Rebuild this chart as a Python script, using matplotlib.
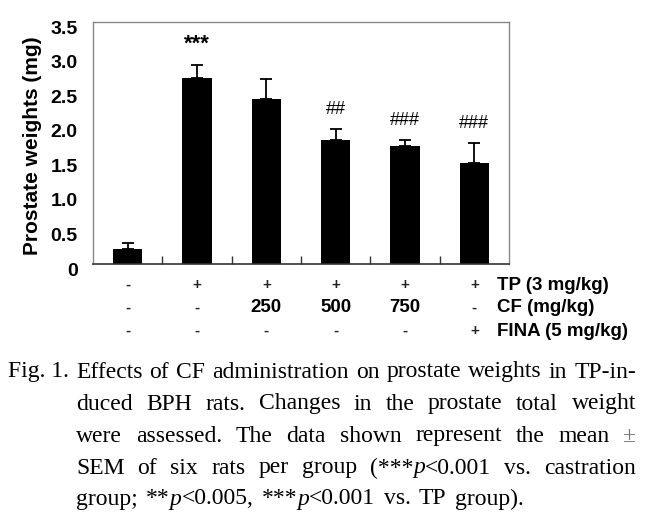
import matplotlib
matplotlib.use("Agg")
import matplotlib.pyplot as plt
import matplotlib.transforms as mtransforms
import numpy as np

# ---------------- data ----------------
means = [0.22, 2.69, 2.39, 1.79, 1.71, 1.46]
sems = [0.08, 0.19, 0.28, 0.16, 0.08, 0.29]
sig_marks = ['', '***', '', '##', '###', '###']
tp_row = ['-', '+', '+', '+', '+', '+']
cf_row = ['-', '-', '250', '500', '750', '-']
fina_row = ['-', '-', '-', '-', '-', '+']
row_labels = ['TP (3 mg/kg)', 'CF (mg/kg)', 'FINA (5 mg/kg)']
yticks = [0, 0.5, 1.0, 1.5, 2.0, 2.5, 3.0, 3.5]
ytick_labels = ['0', '0.5', '1.0', '1.5', '2.0', '2.5', '3.0', '3.5']
ylabel = 'Prostate weights (mg)'

caption_lines = [
    [[("Effects", False)], [("of", False)], [("CF", False)], [("administration", False)],
     [("on", False)], [("prostate", False)], [("weights", False)], [("in", False)], [("TP-in-", False)]],
    [[("duced", False)], [("BPH", False)], [("rats.", False)], [("Changes", False)], [("in", False)],
     [("the", False)], [("prostate", False)], [("total", False)], [("weight", False)]],
    [[("were", False)], [("assessed.", False)], [("The", False)], [("data", False)], [("shown", False)],
     [("represent", False)], [("the", False)], [("mean", False)], [("±", False)]],
    [[("SEM", False)], [("of", False)], [("six", False)], [("rats", False)], [("per", False)],
     [("group", False)], [("(***", False), ("p", True), ("<0.001", False)], [("vs.", False)],
     [("castration", False)]],
    [[("group;", False)], [("**", False), ("p", True), ("<0.005,", False)],
     [("***", False), ("p", True), ("<0.001", False)], [("vs.", False)], [("TP", False)], [("group).", False)]],
]
caption_prefix = "Fig. 1."

# ---------------- figure ----------------
W, H = 649, 528
fig = plt.figure(figsize=(W / 100, H / 100), dpi=100)
fig.patch.set_facecolor('white')

sans = ['Liberation Sans', 'DejaVu Sans']
serif = ['Liberation Serif', 'DejaVu Serif']

ax = fig.add_axes([93 / W, 1 - 264 / H, (509 - 93) / W, (264 - 22) / H])
x = np.arange(len(means))
ax.bar(x, means, width=0.42, color='black', zorder=2)
ax.errorbar(x, means, yerr=[np.zeros(len(sems)), sems], fmt='none',
            ecolor='black', elinewidth=1.3, capsize=4, capthick=1.3, zorder=3)

ax.set_xlim(-0.5, len(means) - 0.5)
ax.set_ylim(0, 3.5)
ax.set_yticks(yticks)
ax.set_yticklabels(ytick_labels, fontsize=14, fontweight='bold', family=sans)
ax.tick_params(axis='y', length=0, pad=11)
offset = mtransforms.ScaledTranslation(0, -5 / 100, fig.dpi_scale_trans)
for lab in ax.get_yticklabels():
    lab.set_transform(lab.get_transform() + offset)

ax.set_xticks(np.arange(0.5, len(means) - 0.5, 1.0))
ax.set_xticklabels([])
ax.tick_params(axis='x', direction='in', length=6, width=1, color='#333333')

for s in ['top', 'right', 'left']:
    ax.spines[s].set_color('#888888')
    ax.spines[s].set_linewidth(1.0)
ax.spines['bottom'].set_color('#333333')
ax.spines['bottom'].set_linewidth(1.2)

ax.set_ylabel(ylabel, fontsize=15, fontweight='bold', family=sans)
ax.yaxis.set_label_coords(-0.122, 0.49)

for xi, m, s, lab in zip(x, means, sems, sig_marks):
    if not lab:
        continue
    if '*' in lab:
        ax.text(xi, m + s + 0.30, lab, ha='center', va='center', fontsize=16,
                fontweight='bold', family=sans)
    else:
        ax.text(xi, m + s + 0.28, lab, ha='center', va='center', fontsize=13,
                family=sans)

# table of treatments below the axes
row_y = [285, 308, 331]
for rows, yy in zip([tp_row, cf_row, fina_row], row_y):
    for xi, val in zip(x, rows):
        xd = ax.transData.transform((xi, 0))[0]
        if val in ['-', '+']:
            fig.text(xd / W, 1 - yy / H, val, ha='center', va='center',
                     fontsize=11, fontweight='bold', family=sans, color='#222222')
        else:
            fig.text(xd / W, 1 - yy / H, val, ha='center', va='center',
                     fontsize=13.5, fontweight='bold', family=sans)
for lab, yy in zip(row_labels, row_y):
    fig.text(497 / W, 1 - yy / H, lab, ha='left', va='center', fontsize=13.5,
             fontweight='bold', family=sans)

# ---------------- caption (justified) ----------------
renderer = fig.canvas.get_renderer()
cap_size = 17


def tw(s, italic=False):
    t = fig.text(0, 0, s, fontsize=cap_size, family=serif,
                 style='italic' if italic else 'normal')
    w = t.get_window_extent(renderer).width
    t.remove()
    return w


space_w = tw("a a") - tw("aa")
line_y = [372, 404, 436, 468, 499]
x0, x1 = 76, 636
fig.text(8 / W, 1 - line_y[0] / H, caption_prefix, fontsize=cap_size, family=serif,
         ha='left', va='center')
for li, (words, yy) in enumerate(zip(caption_lines, line_y)):
    widths = [sum(tw(p, it) for p, it in wd) for wd in words]
    total = sum(widths)
    if li < len(caption_lines) - 1:
        gap = (x1 - x0 - total) / (len(words) - 1)
    else:
        gap = space_w * 1.4
    cx = x0
    for wd, wdw in zip(words, widths):
        px = cx
        for p, it in wd:
            col = '#777777' if p == '±' else 'black'
            fig.text(px / W, 1 - yy / H, p, fontsize=cap_size, family=serif,
                     style='italic' if it else 'normal', ha='left', va='center', color=col)
            px += tw(p, it)
        cx += wdw + gap

fig.savefig('out.png', dpi=100, facecolor='white')
